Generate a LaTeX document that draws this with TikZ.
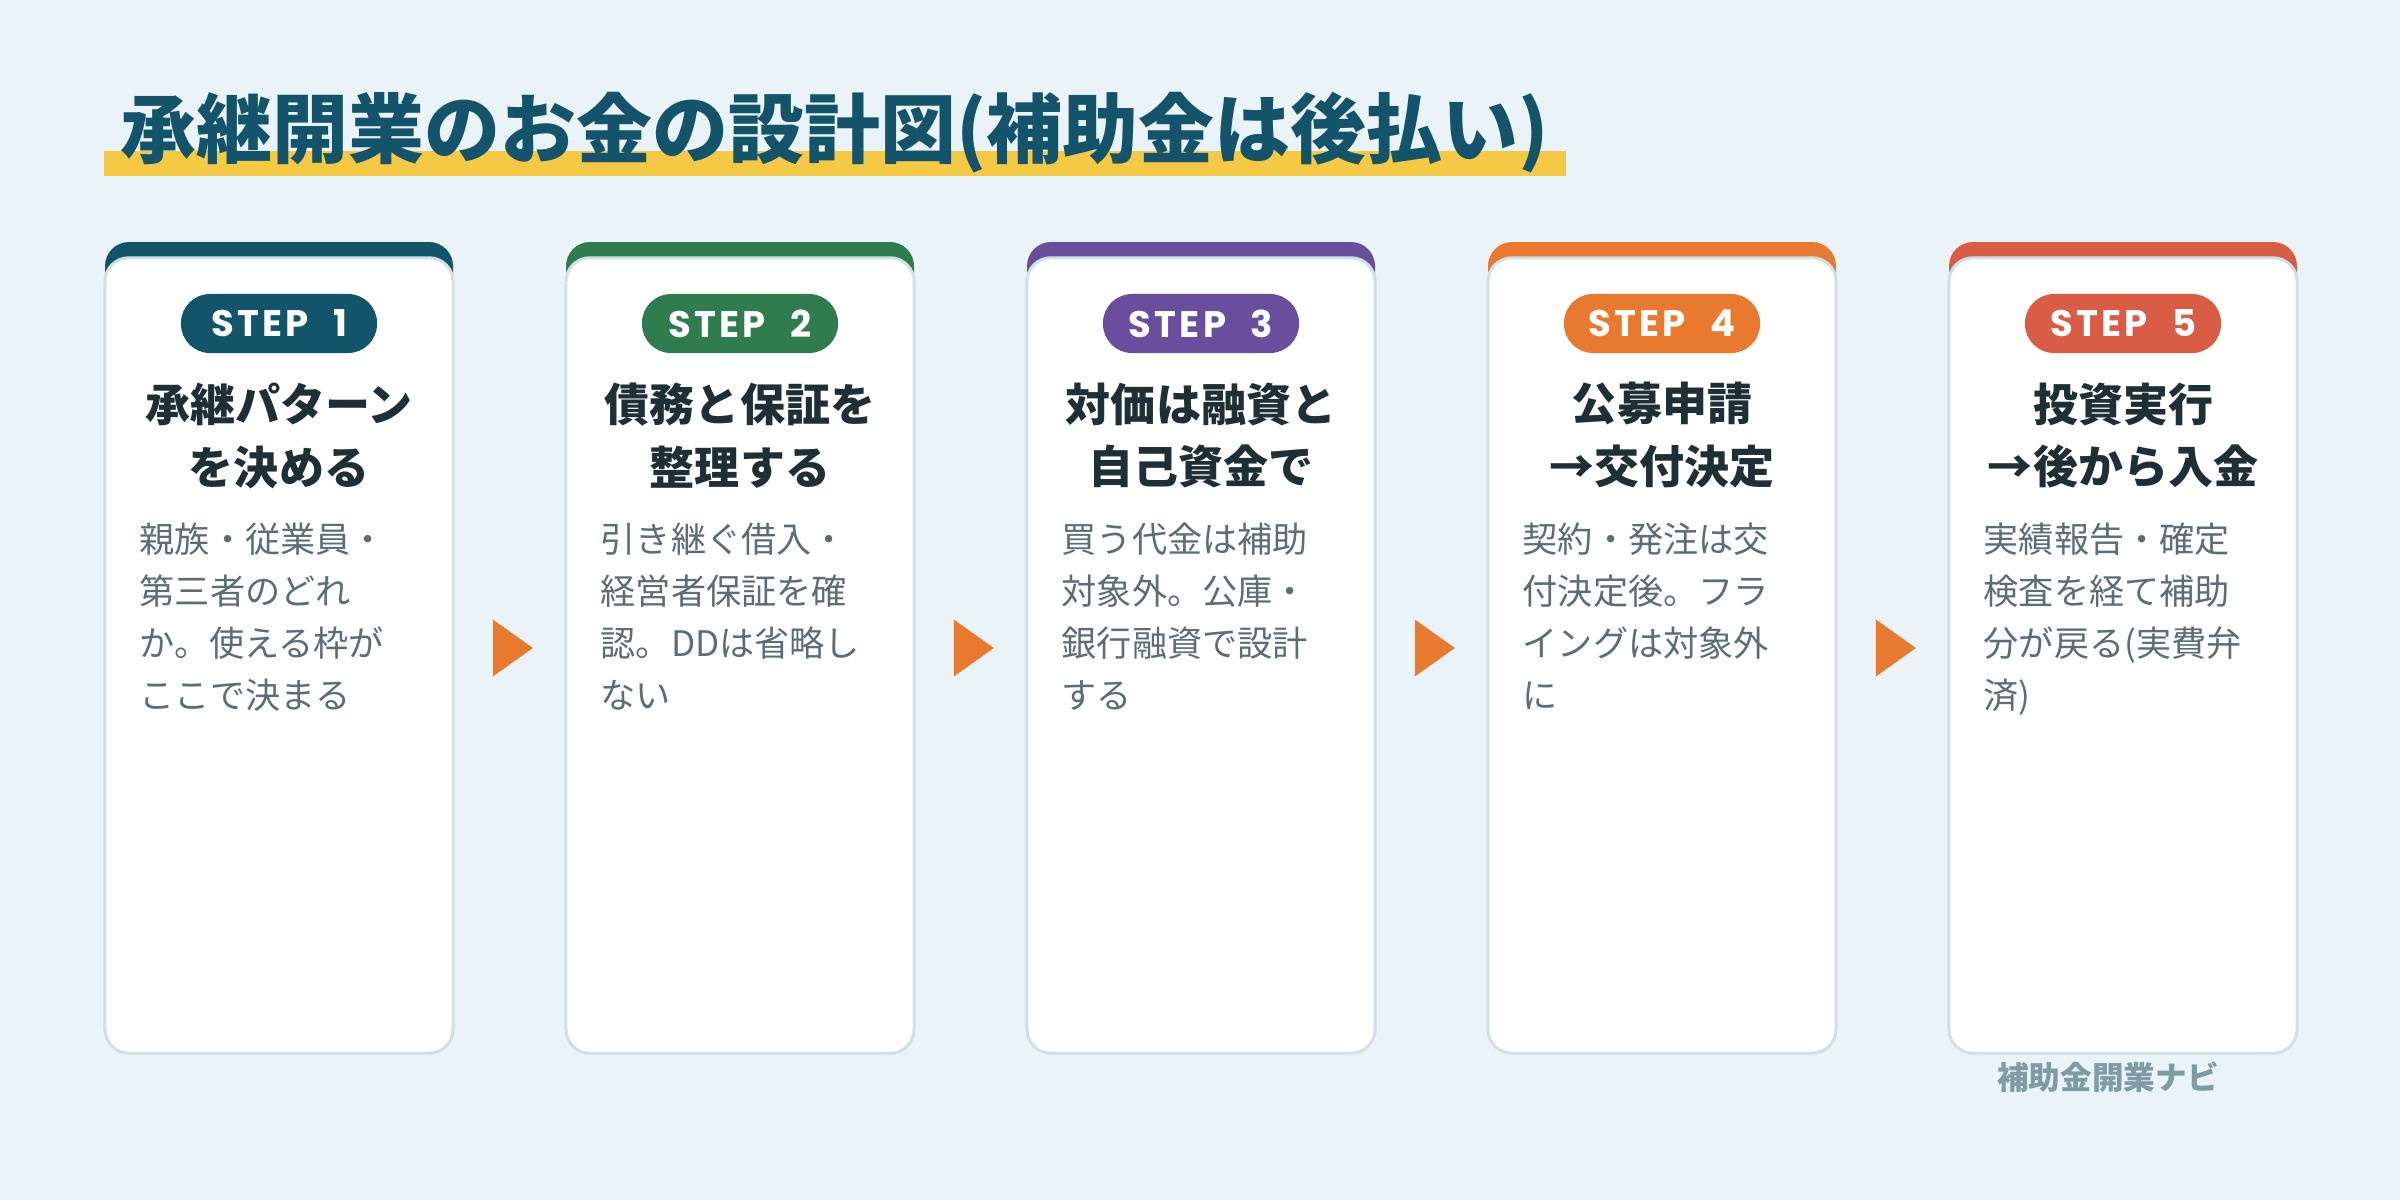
\documentclass[tikz,border=0pt]{standalone}
\usepackage{fontspec}
\setmainfont{Noto Sans CJK JP}
\newfontfamily\stepfont[LetterSpace=9,WordSpace=2.2]{Poppins}
\usepackage{tikz}
\usetikzlibrary{shapes.geometric,calc}

\definecolor{bgblue}{HTML}{EAF3F7}
\definecolor{titletext}{HTML}{14546B}
\definecolor{marker}{HTML}{F6C945}
\definecolor{cardedge}{HTML}{CFE0E6}
\definecolor{headtext}{HTML}{1F2F36}
\definecolor{bodytext}{HTML}{5B6E77}
\definecolor{brandtext}{HTML}{7F9BA5}
\definecolor{stepone}{HTML}{12546A}
\definecolor{steptwo}{HTML}{2F7D4F}
\definecolor{stepthree}{HTML}{6A4E9E}
\definecolor{stepfour}{HTML}{E8792E}
\definecolor{stepfive}{HTML}{D95C45}

\begin{document}
\begin{tikzpicture}[x=0.01cm, y=-0.01cm,
    card/.style={rectangle, draw=cardedge, line width=0.85pt, fill=white, rounded corners=0.24cm, minimum width=3.48cm, minimum height=7.95cm, inner sep=0},
    topband/.style={rounded corners=0.24cm},
    pill/.style={rectangle, rounded corners=0.29cm, minimum width=1.96cm, minimum height=0.59cm, inner sep=0, text=white, font=\stepfont\bfseries\fontsize{10.5}{12}\selectfont},
    head/.style={align=center, text=headtext, inner sep=0, font=\bfseries\fontsize{12.8}{17.9}\selectfont},
    body/.style={align=left, anchor=north west, text=bodytext, inner sep=0, font=\fontsize{10}{14.8}\selectfont},
    gaparrow/.style={isosceles triangle, isosceles triangle stretches, minimum width=0.57cm, minimum height=0.4cm, inner sep=0, fill=stepfour, yshift=0.075cm, xshift=-0.02cm}]
    % Background
    \fill[bgblue] (0,0) rectangle (2400,1200);
    \useasboundingbox (0,0) rectangle (2400,1200);

    % Title with marker
    \fill[marker] (104,151) rectangle (1566,176);
    \node (title) at (120,133) [anchor=west, inner sep=0, text=titletext, font=\bfseries\fontsize{21.6}{26}\selectfont] {承継開業のお金の設計図(補助金は後払い)};

    % Step 1
    \fill[stepone, topband] (105,242) rectangle (453,300);
    \node (card1) at (279,655.5) [card] {};
    \node (step1) at (279,323.5) [pill, fill=stepone] {STEP 1};
    \node (head1) at (279,435.5) [head] {承継パターン\\を決める};
    \node (body1) at (139,522) [body] {親族・従業員・\\第三者のどれ\\か。使える枠が\\ここで決まる};

    % Step 2
    \fill[steptwo, topband] (566,242) rectangle (914,300);
    \node (card2) at (740,655.5) [card] {};
    \node (step2) at (740,323.5) [pill, fill=steptwo] {STEP 2};
    \node (head2) at (740,435.5) [head] {債務と保証を\\整理する};
    \node (body2) at (600,522) [body] {引き継ぐ借入・\\経営者保証を確\\認。DDは省略し\\ない};

    % Step 3
    \fill[stepthree, topband] (1027,242) rectangle (1375,300);
    \node (card3) at (1201,655.5) [card] {};
    \node (step3) at (1201,323.5) [pill, fill=stepthree] {STEP 3};
    \node (head3) at (1201,435.5) [head] {対価は融資と\\自己資金で};
    \node (body3) at (1061,522) [body] {買う代金は補助\\対象外。公庫・\\銀行融資で設計\\する};

    % Step 4
    \fill[stepfour, topband] (1488,242) rectangle (1836,300);
    \node (card4) at (1662,655.5) [card] {};
    \node (step4) at (1662,323.5) [pill, fill=stepfour] {STEP 4};
    \node (head4) at (1662,435.5) [head] {公募申請\\→交付決定};
    \node (body4) at (1522,522) [body] {契約・発注は交\\付決定後。フラ\\イングは対象外\\に};

    % Step 5
    \fill[stepfive, topband] (1949,242) rectangle (2297,300);
    \node (card5) at (2123,655.5) [card] {};
    \node (step5) at (2123,323.5) [pill, fill=stepfive] {STEP 5};
    \node (head5) at (2123,435.5) [head] {投資実行\\→後から入金};
    \node (body5) at (1983,522) [body] {実績報告・確定\\検査を経て補助\\分が戻る(実費弁\\済)};

    % Flow markers between the steps
    \node (arw12) at ($(card1.east)!0.5!(card2.west)$) [gaparrow] {};
    \node (arw23) at ($(card2.east)!0.5!(card3.west)$) [gaparrow] {};
    \node (arw34) at ($(card3.east)!0.5!(card4.west)$) [gaparrow] {};
    \node (arw45) at ($(card4.east)!0.5!(card5.west)$) [gaparrow] {};

    % Brand
    \node (brand) at (2108,1077) [text=brandtext, font=\bfseries\fontsize{9}{10}\selectfont] {補助金開業ナビ};
\end{tikzpicture}
\end{document}
